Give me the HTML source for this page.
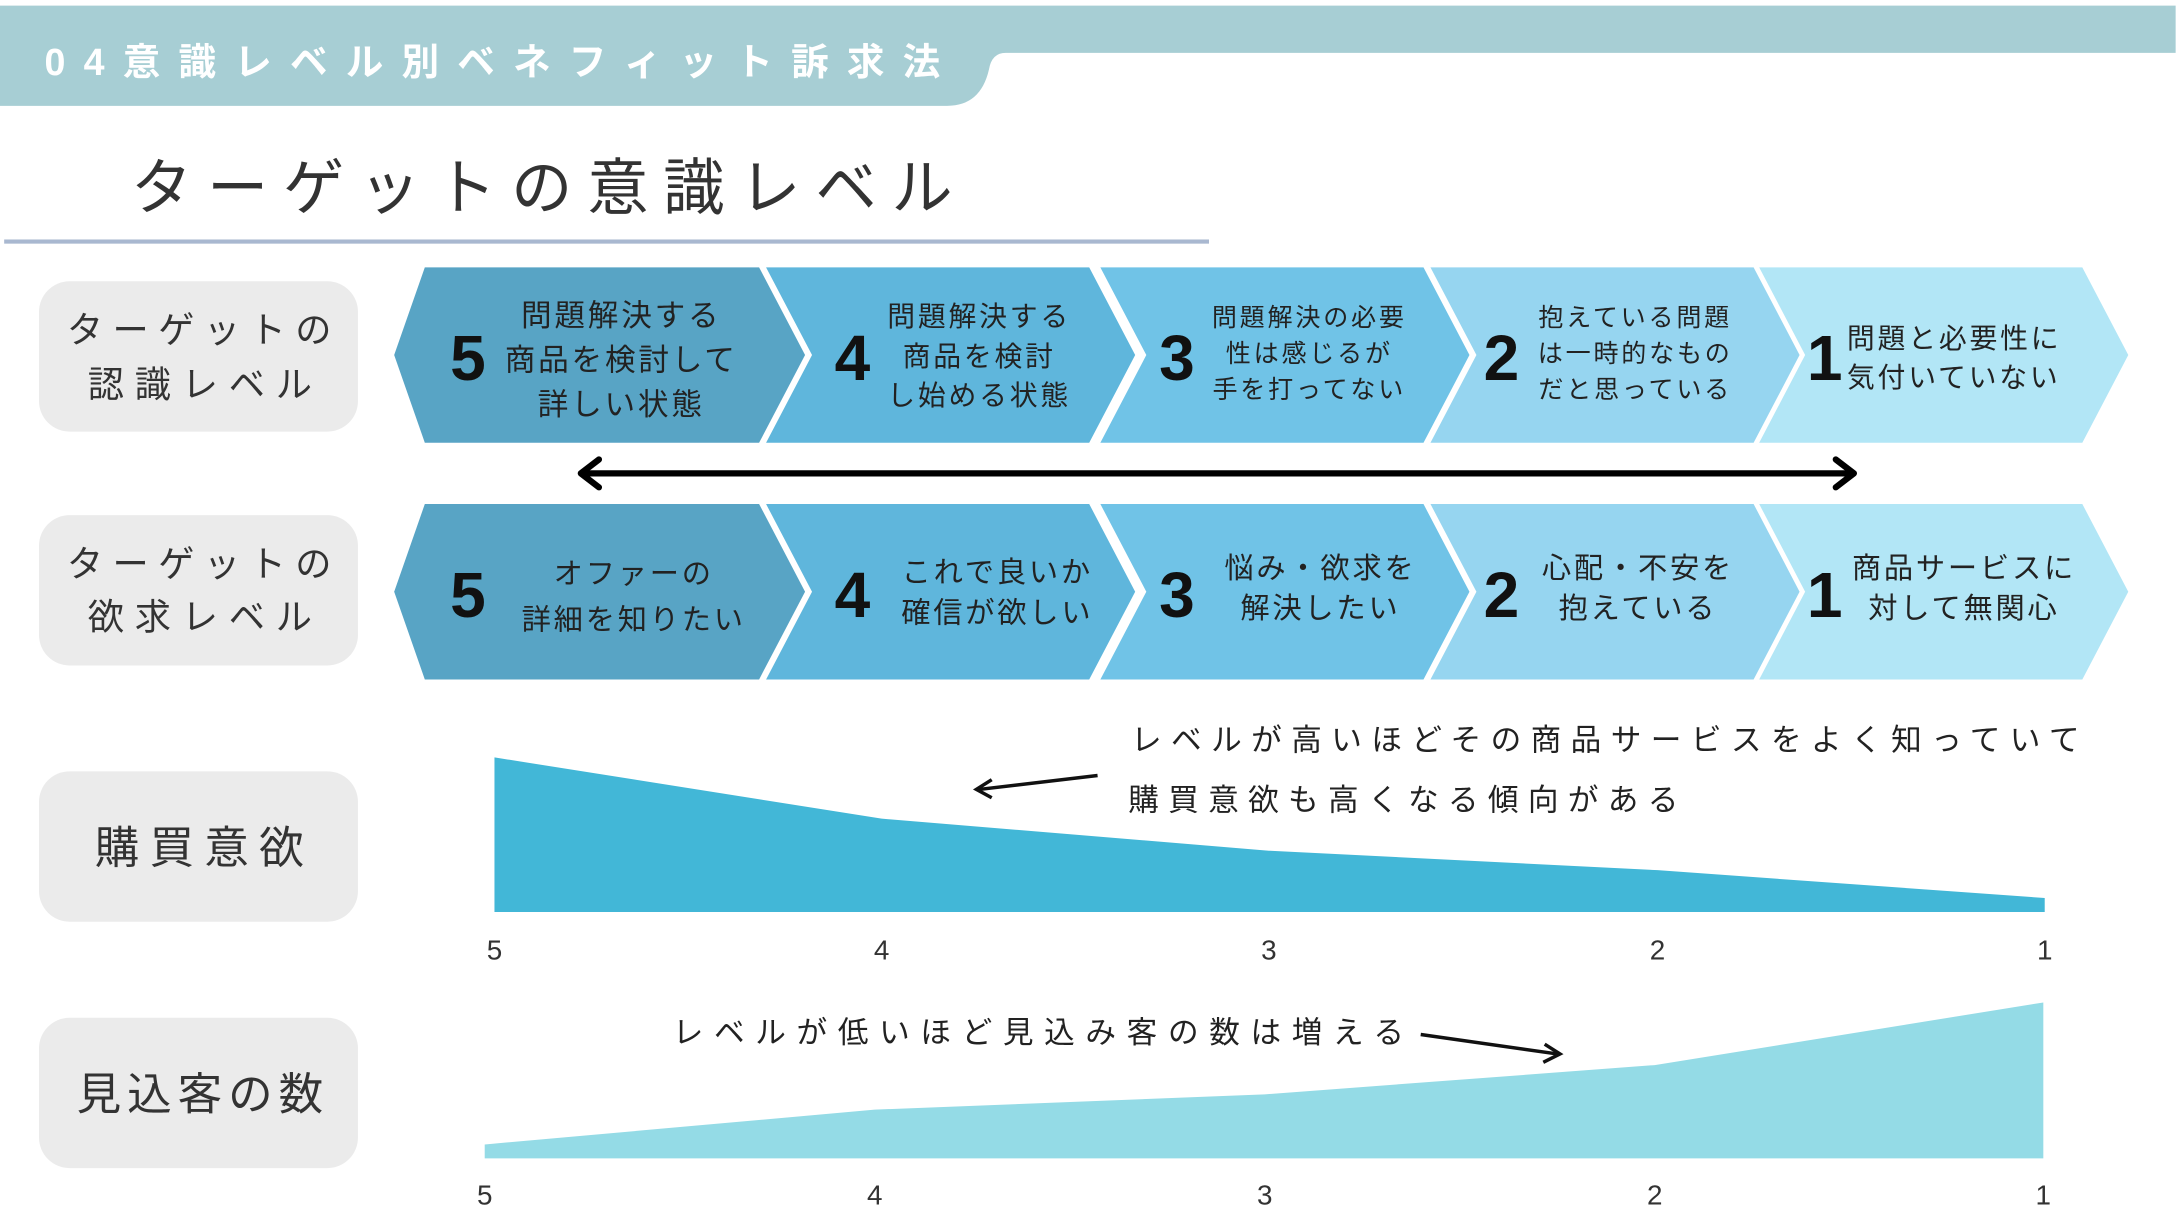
<!DOCTYPE html>
<html><head><meta charset="utf-8"><style>
html,body{margin:0;padding:0;background:#fff;}
svg{display:block;}
text{font-family:"Liberation Sans","Noto Sans CJK JP",sans-serif;}
</style></head><body>
<svg width="2184" height="1228" viewBox="0 0 1568 882" preserveAspectRatio="none" xmlns="http://www.w3.org/2000/svg">
<rect width="1568" height="882" fill="#fff"/>
<path d="M0 4 H1562 V38 H722 Q712 38 710 50 Q704 76 680 76 H0 Z" fill="#a7ced4"/>
<text x="32" y="54" font-size="27" fill="#fff" font-weight="bold" textLength="643" lengthAdjust="spacing">04意識レベル別ベネフィット訴求法</text>
<text x="94" y="150" font-size="44" fill="#333" textLength="590" lengthAdjust="spacing">ターゲットの意識レベル</text>
<rect x="3" y="172" width="865" height="3" fill="#a9b8d0"/>
<g fill="#ebebeb">
<rect x="28" y="202" width="229" height="108" rx="22"/>
<rect x="28" y="370" width="229" height="108" rx="22"/>
<rect x="28" y="554" width="229" height="108" rx="22"/>
<rect x="28" y="731" width="229" height="108" rx="22"/>
</g>
<g fill="#333" font-size="26">
<text x="48" y="246" textLength="190" lengthAdjust="spacing">ターゲットの</text><text x="63" y="285" textLength="161" lengthAdjust="spacing">認識レベル</text>
<text x="48" y="414" textLength="190" lengthAdjust="spacing">ターゲットの</text><text x="63" y="452" textLength="161" lengthAdjust="spacing">欲求レベル</text>
<text x="68" y="620" font-size="32" textLength="150" lengthAdjust="spacing">購買意欲</text>
<text x="55" y="797" font-size="32" textLength="177" lengthAdjust="spacing">見込客の数</text>
</g>
<g>
<polygon points="305,192 545,192 578,255 545,318 305,318 283,255" fill="#58a4c5"/>
<polygon points="550,192 782,192 815,255 782,318 550,318 583,255" fill="#5fb6dc"/>
<polygon points="790,192 1022,192 1055,255 1022,318 790,318 823,255" fill="#70c3e7"/>
<polygon points="1027,192 1259,192 1292,255 1259,318 1027,318 1060,255" fill="#96d5f0"/>
<polygon points="1263,192 1495,192 1528,255 1495,318 1263,318 1296,255" fill="#b2e6f6"/>
<polygon points="305,362 545,362 578,425 545,488 305,488 283,425" fill="#58a4c5"/>
<polygon points="550,362 782,362 815,425 782,488 550,488 583,425" fill="#5fb6dc"/>
<polygon points="790,362 1022,362 1055,425 1022,488 790,488 823,425" fill="#70c3e7"/>
<polygon points="1027,362 1259,362 1292,425 1259,488 1027,488 1060,425" fill="#96d5f0"/>
<polygon points="1263,362 1495,362 1528,425 1495,488 1263,488 1296,425" fill="#b2e6f6"/>
</g>
<g fill="#111" font-size="46" font-weight="bold" text-anchor="middle">
<text x="336" y="273">5</text><text x="612" y="273">4</text><text x="845" y="273">3</text><text x="1078" y="273">2</text><text x="1310" y="273">1</text>
<text x="336" y="443">5</text><text x="612" y="443">4</text><text x="845" y="443">3</text><text x="1078" y="443">2</text><text x="1310" y="443">1</text>
</g>
<g fill="#222" text-anchor="middle" letter-spacing="2">
<g font-size="22"><text x="446" y="234">問題解決する</text><text x="446" y="266">商品を検討して</text><text x="446" y="298">詳しい状態</text></g>
<g font-size="20"><text x="703" y="234">問題解決する</text><text x="703" y="263">商品を検討</text><text x="703" y="291">し始める状態</text></g>
<g font-size="18"><text x="940" y="234">問題解決の必要</text><text x="940" y="260">性は感じるが</text><text x="940" y="286">手を打ってない</text></g>
<g font-size="18"><text x="1174" y="234">抱えている問題</text><text x="1174" y="260">は一時的なもの</text><text x="1174" y="286">だと思っている</text></g>
<g font-size="20" text-anchor="start"><text x="1326" y="250">問題と必要性に</text><text x="1326" y="278">気付いていない</text></g>
<g font-size="21"><text x="455" y="419">オファーの</text><text x="455" y="452">詳細を知りたい</text></g>
<g font-size="21"><text x="716" y="418">これで良いか</text><text x="716" y="447">確信が欲しい</text></g>
<g font-size="21"><text x="948" y="415">悩み・欲求を</text><text x="948" y="444">解決したい</text></g>
<g font-size="21"><text x="1176" y="415">心配・不安を</text><text x="1176" y="444">抱えている</text></g>
<g font-size="21"><text x="1410" y="415">商品サービスに</text><text x="1410" y="444">対して無関心</text></g>
</g>
<line x1="418" y1="340" x2="1330" y2="340" stroke="#000" stroke-width="4.5"/>
<polyline points="430,330 417,340 430,350" fill="none" stroke="#000" stroke-width="4.5" stroke-linejoin="round" stroke-linecap="round"/>
<polyline points="1318,330 1331,340 1318,350" fill="none" stroke="#000" stroke-width="4.5" stroke-linejoin="round" stroke-linecap="round"/>
<polygon points="355,544 633,588 911,611 1190,625 1468,645 1468,655 355,655" fill="#42b7d7"/>
<polygon points="348,822 628,797 908,786 1188,765 1467,720 1467,832 348,832" fill="#94dbe6"/>
<g fill="#333" font-size="20" text-anchor="middle">
<text x="355" y="689">5</text><text x="633" y="689">4</text><text x="911" y="689">3</text><text x="1190" y="689">2</text><text x="1468" y="689">1</text>
<text x="348" y="865">5</text><text x="628" y="865">4</text><text x="908" y="865">3</text><text x="1188" y="865">2</text><text x="1467" y="865">1</text>
</g>
<g fill="#222" font-size="22">
<text x="812" y="539" textLength="681" lengthAdjust="spacing">レベルが高いほどその商品サービスをよく知っていて</text>
<text x="810" y="582" textLength="395" lengthAdjust="spacing">購買意欲も高くなる傾向がある</text>
<text x="483" y="749" textLength="525" lengthAdjust="spacing">レベルが低いほど見込み客の数は増える</text>
</g>
<line x1="788" y1="557" x2="703" y2="567" stroke="#111" stroke-width="2.5"/>
<polyline points="712,560 701,567 712,573" fill="none" stroke="#111" stroke-width="2.5"/>
<line x1="1020" y1="743" x2="1118" y2="757" stroke="#111" stroke-width="2.5"/>
<polyline points="1109,750 1120,757 1108,763" fill="none" stroke="#111" stroke-width="2.5"/>
</svg>
</body></html>
